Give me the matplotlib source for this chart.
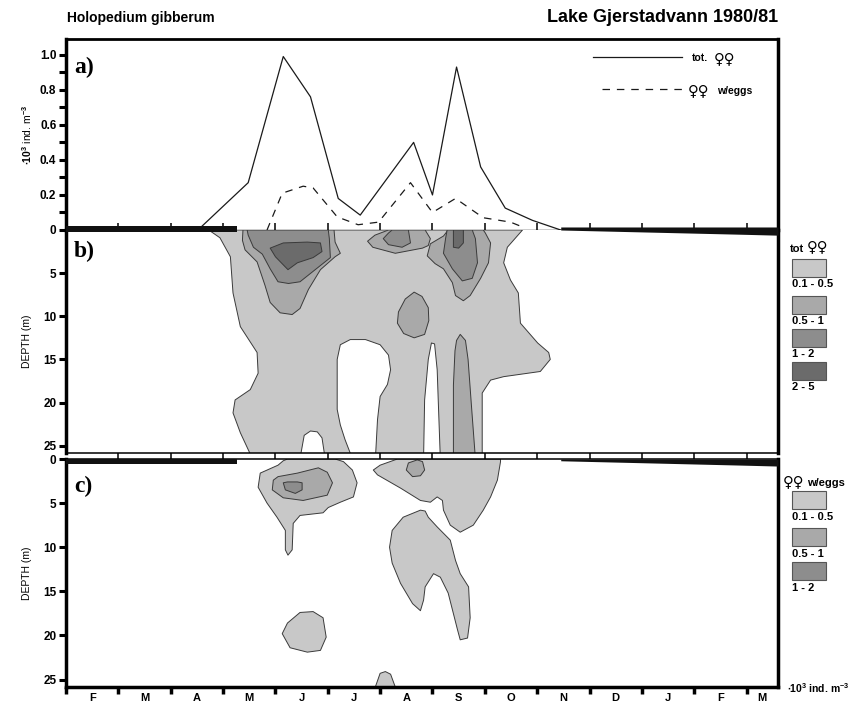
"""
Holopedium gibberum in Lake Gjerstadvann 1980/81:
a) total females and females with eggs, b) depth distribution of total
females, c) depth distribution of females with eggs.
"""

import matplotlib.pyplot as plt
from matplotlib.patches import Polygon, Rectangle
from matplotlib.lines import Line2D

plt.rcParams['font.family'] = ['Liberation Sans', 'DejaVu Sans']
plt.rcParams['font.weight'] = 'bold'
plt.rcParams['mathtext.fontset'] = 'custom'
plt.rcParams['mathtext.rm'] = 'Liberation Sans:bold'
plt.rcParams['mathtext.bf'] = 'Liberation Sans:bold'
plt.rcParams['mathtext.default'] = 'bf'

# x axis in months from 1 Feb 1980
months = ['F', 'M', 'A', 'M', 'J', 'J', 'A', 'S', 'O', 'N', 'D', 'J', 'F', 'M']
month_pos = [0.5, 1.5, 2.5, 3.5, 4.5, 5.5, 6.5, 7.5, 8.5, 9.5, 10.5, 11.5, 12.5, 13.3]
x_end = 13.6

# panel a (10^3 ind. m-3)
tot_x = [2.52, 3.48, 4.15, 4.67, 5.20, 5.62, 6.64, 7.00, 7.46, 7.92, 8.39, 8.91, 9.45]
tot_y = [0.0, 0.27, 0.99, 0.76, 0.18, 0.085, 0.50, 0.20, 0.93, 0.36, 0.125, 0.055, 0.0]
egg_x = [3.84, 4.13, 4.53, 4.72, 5.18, 5.58, 5.97, 6.58, 7.00, 7.44, 7.97, 8.49, 8.74]
egg_y = [0.0, 0.21, 0.25, 0.24, 0.075, 0.03, 0.045, 0.27, 0.10, 0.18, 0.07, 0.045, 0.015]

# ice cover (month, thickness in m)
ice_left_x = [0.0, 3.27]
ice_right_x = [9.45, 12.95, 13.6]
ice_right_d = [0.0, 0.5, 0.6]

level_labels = ['0.1 - 0.5', '0.5 - 1', '1 - 2', '2 - 5']
level_colors = ['#c8c8c8', '#a9a9a9', '#8d8d8d', '#6b6b6b']

# panel b isolines (month, depth m)
b_lvl1 = [(2.75, 0), (8.72, 0), (8.43, 2.0), (8.36, 3.8), (8.49, 5.8), (8.64, 7.3),
          (8.68, 10.8), (9.01, 13.1), (9.22, 14.2), (9.25, 15.0), (9.06, 16.4),
          (8.36, 17.0), (8.11, 17.4), (7.95, 18.9), (7.95, 26.5),
          (7.15, 26.5), (7.11, 19.7), (7.09, 16.2), (7.04, 13.2), (6.98, 13.1),
          (6.92, 15.0), (6.85, 19.7), (6.83, 26.5),
          (5.91, 26.5), (5.95, 22.0), (6.00, 19.3), (6.14, 17.9), (6.20, 16.2),
          (6.16, 14.5), (6.00, 13.3), (5.72, 12.7), (5.43, 12.7), (5.24, 13.3),
          (5.18, 15.0), (5.18, 20.8), (5.24, 22.6), (5.33, 24.3), (5.47, 26.5),
          (4.95, 26.5), (4.89, 24.1), (4.80, 23.4), (4.67, 23.3), (4.55, 23.8), (4.47, 26.5),
          (3.56, 26.5), (3.33, 23.5), (3.19, 21.2), (3.23, 19.7), (3.52, 18.5),
          (3.67, 16.6), (3.65, 14.2), (3.33, 11.2), (3.19, 7.3), (3.14, 3.1),
          (2.94, 0.9), (2.75, 0.1)]
b_lvl2_jun = [(3.38, 0), (3.37, 1.2), (3.42, 2.3), (3.65, 3.7), (3.80, 6.4), (3.90, 8.4),
              (4.09, 9.6), (4.32, 9.8), (4.47, 9.1), (4.63, 6.9), (4.86, 4.6), (5.14, 3.1),
              (5.24, 2.7), (5.14, 1.4), (5.12, 0)]
b_lvl3_jun = [(3.46, 0), (3.48, 0.6), (3.58, 2.0), (3.75, 2.8), (3.90, 4.5), (4.05, 6.0),
              (4.25, 6.2), (4.47, 6.0), (4.76, 4.6), (5.05, 3.2), (5.03, 1.0), (5.01, 0)]
b_lvl4_jun = [(3.90, 2.1), (4.00, 3.1), (4.24, 4.6), (4.42, 3.8), (4.72, 3.2), (4.89, 2.5),
              (4.86, 1.5), (4.61, 1.4), (4.15, 1.5)]
b_lvl2_augtop = [(5.76, 1.3), (5.90, 0.6), (6.16, 0), (6.86, 0), (6.96, 1.0), (6.92, 1.8),
                 (6.81, 2.1), (6.29, 2.7), (5.86, 2.0)]
b_lvl3_augtop = [(6.06, 1.0), (6.16, 0.35), (6.23, 0), (6.54, 0), (6.58, 1.5), (6.42, 2.0),
                 (6.16, 1.7)]
b_lvl2_aug10 = [(6.65, 7.2), (6.48, 8.0), (6.35, 9.5), (6.33, 10.8), (6.45, 12.0), (6.65, 12.5),
                (6.85, 12.1), (6.93, 10.5), (6.92, 9.0), (6.80, 7.7)]
b_lvl2_sep = [(7.30, 0), (7.21, 0.7), (6.96, 1.6), (6.90, 3.0), (7.05, 3.9), (7.21, 4.5),
              (7.38, 6.1), (7.44, 7.6), (7.59, 8.2), (7.72, 7.6), (7.92, 5.6), (8.07, 3.8),
              (8.11, 1.5), (8.01, 0.35), (7.97, 0)]
b_lvl3_sep = [(7.28, 0), (7.25, 1.0), (7.21, 2.7), (7.38, 4.5), (7.57, 5.9), (7.76, 5.6),
              (7.86, 3.8), (7.82, 1.0), (7.76, 0)]
b_lvl4_sep = [(7.40, 0), (7.40, 2.0), (7.50, 2.1), (7.59, 1.5), (7.59, 0)]
b_lvl2_sepdeep = [(7.53, 12.1), (7.46, 12.8), (7.43, 14.0), (7.40, 18.0), (7.40, 26.5),
                  (7.82, 26.5), (7.74, 20.0), (7.68, 15.0), (7.63, 12.8)]

# panel c isolines (month, depth m)
c_lvl1_jun = [(4.05, 0.7), (3.71, 1.6), (3.67, 3.2), (3.84, 5.0), (4.03, 6.6), (4.19, 8.1),
              (4.19, 10.3), (4.24, 10.9), (4.32, 10.3), (4.34, 7.3), (4.47, 6.4), (4.91, 6.1),
              (5.01, 5.5), (5.24, 4.9), (5.49, 4.3), (5.56, 2.7), (5.47, 1.25), (5.30, 0.3),
              (5.14, 0), (4.23, 0), (4.15, 0.2)]
c_lvl1_augtop = [(5.87, 1.25), (5.95, 1.8), (6.39, 3.3), (6.77, 4.7), (6.96, 4.9), (7.09, 4.3),
                 (7.19, 4.7), (7.21, 5.8), (7.34, 7.5), (7.53, 8.3), (7.78, 7.5), (7.97, 5.8),
                 (8.11, 4.3), (8.24, 2.4), (8.30, 0.3), (8.30, 0), (6.33, 0), (6.00, 0.7)]
c_lvl1_aug = [(6.77, 5.8), (6.44, 6.6), (6.23, 8.1), (6.18, 10.0), (6.23, 11.8), (6.39, 14.1),
              (6.62, 16.4), (6.77, 17.2), (6.83, 16.0), (6.86, 14.5), (7.02, 13.0), (7.15, 13.4),
              (7.30, 15.2), (7.48, 19.4), (7.53, 20.5), (7.67, 20.3), (7.72, 18.0), (7.69, 14.5),
              (7.53, 13.0), (7.44, 11.5), (7.34, 9.2), (7.09, 7.7), (6.92, 6.6), (6.86, 5.9)]
c_lvl1_jun20 = [(4.47, 17.4), (4.23, 18.6), (4.13, 19.8), (4.28, 21.4), (4.61, 21.9),
                (4.86, 21.7), (4.97, 20.2), (4.91, 18.0), (4.72, 17.3)]
c_lvl1_bump = [(5.87, 26.5), (6.00, 24.3), (6.10, 24.1), (6.20, 24.4), (6.33, 26.5)]
c_lvl2_jun = [(3.96, 2.4), (3.94, 3.5), (4.15, 4.4), (4.53, 4.7), (4.99, 4.1), (5.09, 2.7),
              (4.99, 1.5), (4.82, 1.0), (4.42, 1.6), (4.05, 2.0)]
c_lvl2_aug = [(6.54, 0.45), (6.50, 1.25), (6.62, 2.0), (6.77, 1.9), (6.85, 1.25), (6.81, 0.3),
              (6.71, 0.1)]
c_lvl3_jun = [(4.15, 2.7), (4.19, 3.5), (4.38, 3.9), (4.51, 3.5), (4.51, 2.7), (4.42, 2.6),
              (4.23, 2.6)]

b_levels = [[b_lvl1],
            [b_lvl2_jun, b_lvl2_augtop, b_lvl2_aug10, b_lvl2_sep, b_lvl2_sepdeep],
            [b_lvl3_jun, b_lvl3_augtop, b_lvl3_sep],
            [b_lvl4_jun, b_lvl4_sep]]
c_levels = [[c_lvl1_jun, c_lvl1_augtop, c_lvl1_aug, c_lvl1_jun20, c_lvl1_bump],
            [c_lvl2_jun, c_lvl2_aug],
            [c_lvl3_jun]]

W, H = 861, 705
FEM = dict(family='DejaVu Sans', fontweight='bold', fontsize=10.5, va='center')


def fx(px):
    return px / W


def fy(py):
    return 1 - py / H


fig = plt.figure(figsize=(W / 100, H / 100), dpi=100)
left, width = fx(66), (778 - 66) / W
ax_a = fig.add_axes([left, fy(230), width, (230 - 39) / H])
ax_b = fig.add_axes([left, fy(453), width, (453 - 230) / H])
ax_c = fig.add_axes([left, fy(687), width, (687 - 459) / H])

# --- a) line plot
ax_a.plot(tot_x, tot_y, color='#1a1a1a', lw=0.9)
ax_a.plot(egg_x, egg_y, color='#1a1a1a', lw=0.9, dashes=(6, 5.5))
ax_a.set_xlim(0, x_end)
ax_a.set_ylim(0, 1.09)
ax_a.set_yticks([0, 0.2, 0.4, 0.6, 0.8, 1.0])
ax_a.set_yticklabels(['0', '0.2', '0.4', '0.6', '0.8', '1.0'])
ax_a.set_yticks([0.1, 0.3, 0.5, 0.7, 0.9], minor=True)
ax_a.tick_params(axis='y', which='both', direction='out', length=5, width=2.2,
                 labelsize=8.5, pad=2)
ax_a.set_xticks(range(1, 14))
ax_a.tick_params(axis='x', direction='in', length=5, width=1.1, labelbottom=False)
ax_a.spines['top'].set_linewidth(2)
ax_a.spines['bottom'].set_linewidth(1)
ax_a.spines['left'].set_linewidth(2.5)
ax_a.spines['right'].set_linewidth(2.5)
ax_a.set_ylabel(r'$\bullet10^{3}$ ind. m$^{-3}$', fontsize=7.5, labelpad=4)

# legend of panel a
fig.add_artist(Line2D([fx(593), fx(682)], [fy(57), fy(57)], color='#1a1a1a', lw=0.9))
fig.add_artist(Line2D([fx(602), fx(682)], [fy(89), fy(89)], color='#1a1a1a', lw=0.9,
                      dashes=(6, 5.5)))
fig.text(fx(692), fy(58), 'tot.', fontsize=7.5, va='center')
fig.text(fx(714), fy(59), '♀♀', **FEM)
fig.text(fx(688), fy(91), '♀♀', **FEM)
fig.text(fx(717), fy(91), 'w/eggs', fontsize=7.5, va='center')


def draw_levels(ax, levels):
    for colour, polys in zip(level_colors, levels):
        for poly in polys:
            ax.add_patch(Polygon(poly, closed=True, facecolor=colour,
                                 edgecolor='#3a3a3a', lw=0.7, joinstyle='round'))


def depth_axis(ax, ticks):
    ax.set_xlim(0, x_end)
    ax.set_ylim(25.85, 0)
    ax.set_yticks(ticks)
    ax.set_yticklabels([str(t) for t in ticks])
    ax.tick_params(axis='y', direction='out', length=5, width=2.2, labelsize=8.5, pad=2)
    ax.spines['left'].set_linewidth(2.5)
    ax.spines['right'].set_linewidth(2.5)
    ax.set_ylabel('DEPTH (m)', fontsize=7.5, labelpad=8)


# --- b) total females
draw_levels(ax_b, b_levels)
ax_b.fill_between(ice_left_x, -0.45, 0.25, color='#111111', lw=0, clip_on=False, zorder=5)
ax_b.fill_between(ice_right_x, -0.35, ice_right_d, color='#111111', lw=0,
                  clip_on=False, zorder=5)
depth_axis(ax_b, [5, 10, 15, 20, 25])
ax_b.set_xticks(range(1, 14))
ax_b.tick_params(axis='x', direction='out', length=4.4, width=1.1, labelbottom=False)
ax_b.spines['top'].set_visible(False)
ax_b.spines['bottom'].set_linewidth(1.1)

# --- c) females with eggs
draw_levels(ax_c, c_levels)
ax_c.fill_between(ice_left_x, 0, 0.6, color='#111111', lw=0, zorder=5)
ax_c.fill_between(ice_right_x, 0, [d + 0.2 for d in ice_right_d], color='#111111',
                  lw=0, zorder=5)
depth_axis(ax_c, [0, 5, 10, 15, 20, 25])
ax_c.set_xticks(range(0, 14))
ax_c.set_xticklabels([])
ax_c.set_xticks(month_pos, minor=True)
ax_c.set_xticklabels(months, minor=True)
ax_c.tick_params(axis='x', which='major', direction='out', length=5, width=2.5)
ax_c.tick_params(axis='x', which='minor', length=0, labelsize=8, pad=4)
ax_c.spines['top'].set_linewidth(1.1)
ax_c.spines['bottom'].set_linewidth(2.5)

# panel letters
for lab, py in [('a)', 67), ('b)', 251), ('c)', 486)]:
    fig.text(fx(74), fy(py), lab, fontsize=17, va='center', fontweight='bold',
             family='Liberation Serif')

# titles
fig.text(fx(67), fy(18), 'Holopedium gibberum', fontsize=10, va='center')
fig.text(fx(778), fy(18), 'Lake Gjerstadvann 1980/81', fontsize=13, va='center', ha='right')

# right hand keys
bx, bw, bh = 792, 34, 18
fig.text(fx(790), fy(249), 'tot', fontsize=8, va='center')
fig.text(fx(807), fy(247), '♀♀', **FEM)
for colour, lab, top in zip(level_colors, level_labels, [259, 296, 329, 362]):
    fig.add_artist(Rectangle((fx(bx), fy(top + bh)), bw / W, bh / H, transform=fig.transFigure,
                             facecolor=colour, edgecolor='#555555', lw=0.8))
    fig.text(fx(bx), fy(top + bh + 7), lab, fontsize=8, va='center')

fig.text(fx(783), fy(482), '♀♀', **FEM)
fig.text(fx(807), fy(483), 'w/eggs', fontsize=8, va='center')
for colour, lab, top in zip(level_colors[:3], level_labels[:3], [491, 528, 562]):
    fig.add_artist(Rectangle((fx(bx), fy(top + bh)), bw / W, bh / H, transform=fig.transFigure,
                             facecolor=colour, edgecolor='#555555', lw=0.8))
    fig.text(fx(bx), fy(top + bh + 8), lab, fontsize=8, va='center')

fig.text(fx(787), fy(688), r'$\bullet10^{3}$ ind. m$^{-3}$', fontsize=7.5, va='center')

fig.savefig('out.png', dpi=100)
